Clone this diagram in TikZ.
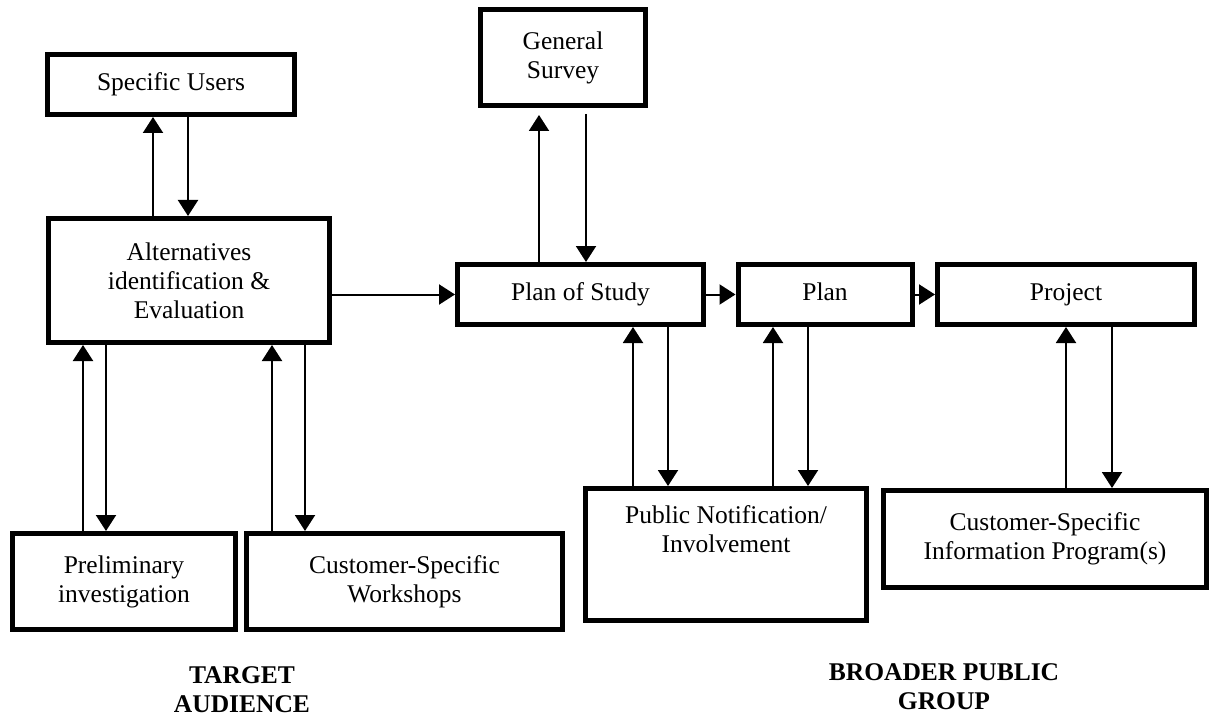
\documentclass[tikz,border=0pt]{standalone}
\usepackage{fontspec}
\setmainfont{Liberation Serif}
\usetikzlibrary{arrows.meta}
\begin{document}
\begin{tikzpicture}[x=0.5pt,y=-0.5pt,
  txt/.style={inner sep=0pt, align=center, font=\fontsize{12.75}{14.5}\selectfont},
  box/.style={txt, draw, line width=2.5pt},
  arr/.style={line width=1pt, -{Triangle[length=8pt,width=10pt]}},
  grp/.style={inner sep=0pt, align=center, font=\bfseries\fontsize{12.75}{14.5}\selectfont}]
\useasboundingbox (0,0) rectangle (1211,717);
% boxes
\node[box, minimum width=123.5pt, minimum height=30pt] (su) at (171,84.5) {Specific Users};
\node[box, minimum width=140.5pt, minimum height=62pt] (alt) at (189,280.5) {Alternatives\\identification \&\\Evaluation};
\node[box, minimum width=82.5pt, minimum height=48pt] (gs) at (563,57.5) {General\\Survey};
\node[box, minimum width=123pt, minimum height=30pt] (pos) at (580.5,294.5) {Plan of Study};
\node[box, minimum width=87pt, minimum height=30pt] (plan) at (825,294.5) {Plan\vphantom{y}};
\node[box, minimum width=128.5pt, minimum height=30pt] (proj) at (1066,294.5) {Project};
\node[box, minimum width=140.5pt, minimum height=66pt] (pn) at (726,554.5) {};
\node[txt, anchor=north] (pntext) at ([yshift=-9.75pt]pn.north) {Public Notification/\\Involvement};
\node[box, minimum width=161.5pt, minimum height=48.5pt] (csi) at (1045,539) {Customer-Specific\\Information Program(s)};
\node[box, minimum width=111.5pt, minimum height=48pt] (pre) at (124,581.5) {Preliminary\\investigation};
\node[box, minimum width=158pt, minimum height=48pt] (ws) at (404.5,581.5) {Customer-Specific\\Workshops};
% group labels
\node[grp] (ta) at (242,690) {TARGET\\AUDIENCE};
\node[grp] (bp) at (944,687) {BROADER PUBLIC\\GROUP};
% x positions of vertical connectors
\coordinate (x1) at (153,0);
\coordinate (x2) at (188,0);
\coordinate (x3) at (539,0);
\coordinate (x4) at (586,0);
\coordinate (x5) at (633,0);
\coordinate (x6) at (668,0);
\coordinate (x7) at (773,0);
\coordinate (x8) at (808,0);
\coordinate (x9) at (1066,0);
\coordinate (x10) at (1112,0);
\coordinate (x11) at (83,0);
\coordinate (x12) at (106,0);
\coordinate (x13) at (272,0);
\coordinate (x14) at (305,0);
% connectors
\draw[arr] (alt.north -| x1) -- (su.south -| x1);
\draw[arr] (su.south -| x2) -- (alt.north -| x2);
\draw[arr] (alt.east |- pos.west) -- (pos.west);
\draw[arr, shorten >=3.5pt] (pos.north -| x3) -- (gs.south -| x3);
\draw[arr, shorten <=3pt] (gs.south -| x4) -- (pos.north -| x4);
\draw[arr] (pos.east) -- (plan.west);
\draw[arr] (plan.east) -- (proj.west);
\draw[arr] (pn.north -| x5) -- (pos.south -| x5);
\draw[arr] (pos.south -| x6) -- (pn.north -| x6);
\draw[arr] (pn.north -| x7) -- (plan.south -| x7);
\draw[arr] (plan.south -| x8) -- (pn.north -| x8);
\draw[arr] (csi.north -| x9) -- (proj.south -| x9);
\draw[arr] (proj.south -| x10) -- (csi.north -| x10);
\draw[arr] (pre.north -| x11) -- (alt.south -| x11);
\draw[arr] (alt.south -| x12) -- (pre.north -| x12);
\draw[arr] (ws.north -| x13) -- (alt.south -| x13);
\draw[arr] (alt.south -| x14) -- (ws.north -| x14);
\end{tikzpicture}
\end{document}
